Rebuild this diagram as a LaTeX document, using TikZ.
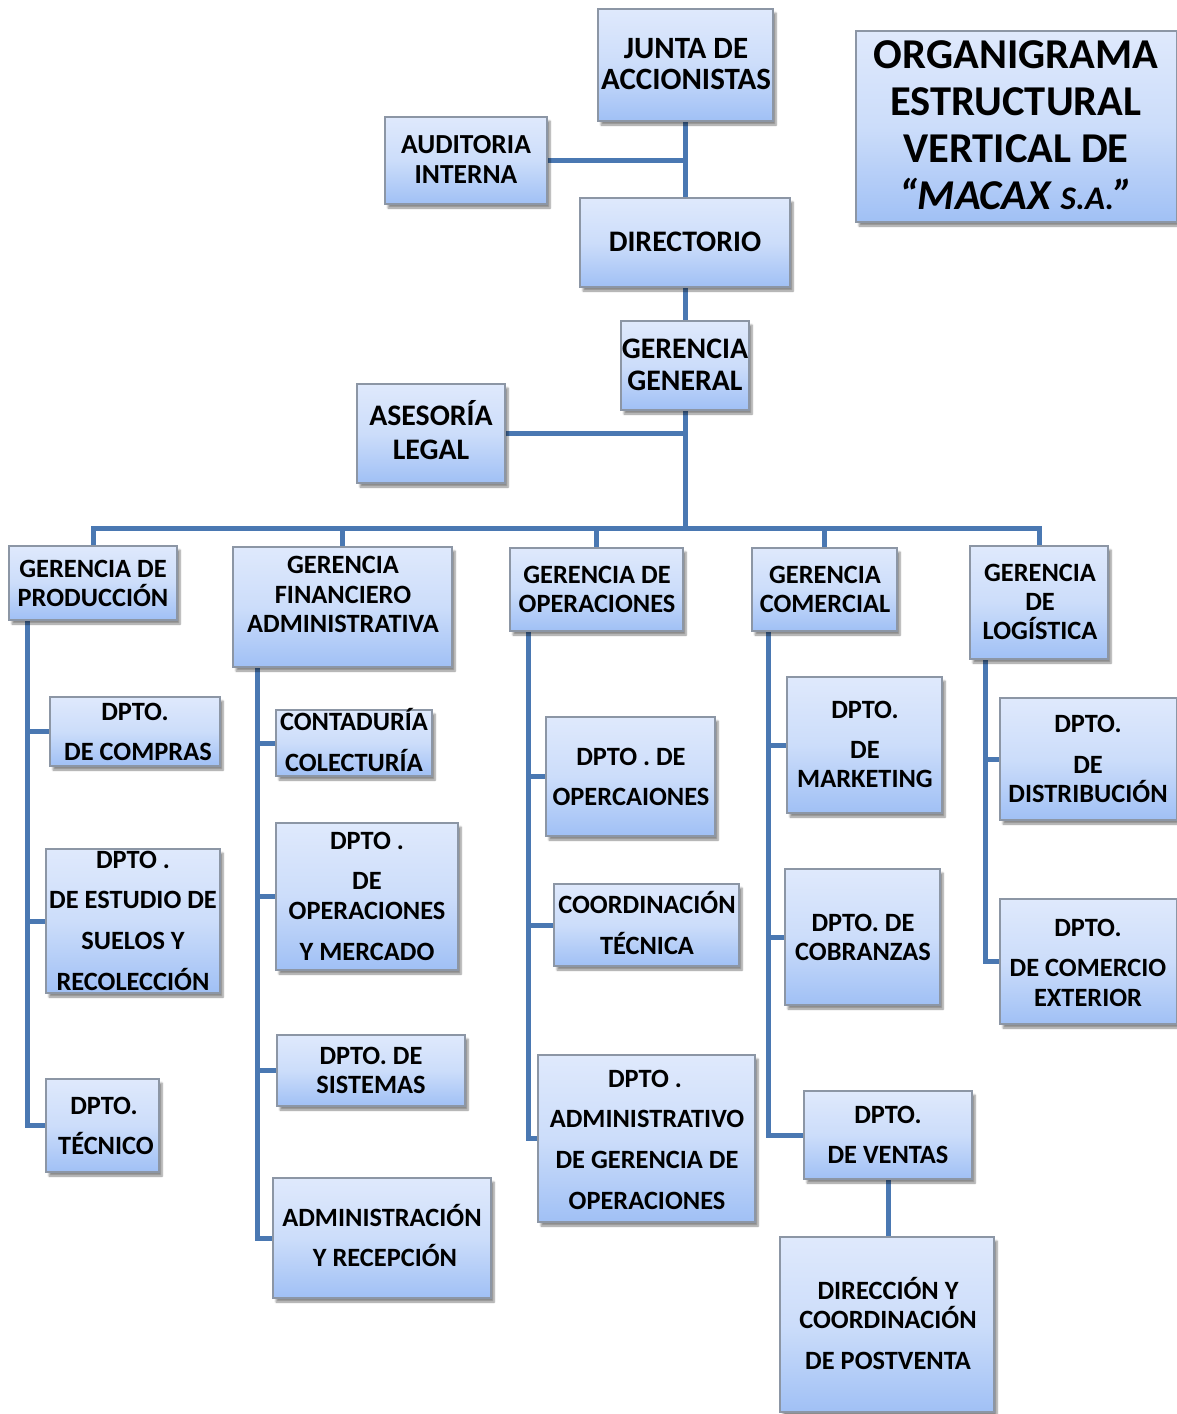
\documentclass[tikz,border=0pt]{standalone}
\usepackage{fontspec}
\setmainfont{Carlito}
\usetikzlibrary{shadows.blur,backgrounds}
\definecolor{lineblue}{RGB}{74,120,178}
\definecolor{btop}{RGB}{223,233,252}
\definecolor{bmid}{RGB}{204,221,250}
\definecolor{bbot}{RGB}{160,192,245}
\definecolor{bdraw}{RGB}{140,150,165}
\newcount\tlc
\newcommand\bx[5]{\node[box,minimum width={((#4)-(#2))*1pt},minimum height={((#5)-(#3))*1pt}] (#1) at ({((#2)+(#4))/2},{((#3)+(#5))/2}) {};}
\newcommand\tl[4][26.4]{\global\advance\tlc by 1\relax\node[txt,font=\bfseries\fontsize{#1}{#1}\selectfont] (tl\the\tlc) at (#2,{(#3)+0.322*(#1)}) {#4};}
\begin{document}
\begin{tikzpicture}[x=1pt,y=-1pt,
  box/.style={draw=bdraw,line width=1.2pt,top color=btop,bottom color=bbot,middle color=bmid,inner sep=0pt,
    blur shadow={shadow xshift=3pt,shadow yshift=-4pt,shadow opacity=45,shadow blur steps=6}},
  txt/.style={anchor=base,inner sep=0pt,text=black},
  conn/.style={draw=lineblue,line width=5pt,line join=miter}]
\useasboundingbox (0,0) rectangle (1177,1414);
% boxes
\bx{junta}{598}{9}{773}{121}
\bx{titulo}{856}{31}{1177}{222}
\bx{aud}{385}{117}{547}{204}
\bx{dir}{580}{198}{790}{287}
\bx{gg}{621}{321}{749}{410}
\bx{ase}{357}{384}{505}{483}
\bx{gp}{9}{546}{177}{620}
\bx{gfa}{233}{547}{452}{667}
\bx{go}{510}{548}{683}{631}
\bx{gc}{752}{548}{897}{631}
\bx{gl}{970}{546}{1108}{659}
\bx{compras}{50}{697}{220}{766}
\bx{estudio}{46}{849}{220}{993}
\bx{tecnico}{46}{1079}{159}{1172}
\bx{conta}{276}{710}{432}{776}
\bx{opmer}{276}{823}{458}{970}
\bx{sist}{277}{1035}{465}{1106}
\bx{admrec}{273}{1178}{491}{1298}
\bx{operc}{546}{717}{715}{836}
\bx{coord}{554}{884}{739}{966}
\bx{admop}{538}{1055}{755}{1222}
\bx{mkt}{787}{677}{942}{813}
\bx{cob}{785}{869}{940}{1005}
\bx{ventas}{804}{1091}{972}{1179}
\bx{post}{780}{1237}{994}{1412}
\bx{dist}{1000}{698}{1177}{820}
\bx{comex}{1000}{899}{1177}{1024}
% texts
\tl[31]{686}{49}{JUNTA DE}
\tl[31]{686}{80}{ACCIONISTAS}
\tl[42.5]{1016}{55}{ORGANIGRAMA}
\tl[42.5]{1016}{102}{ESTRUCTURAL}
\tl[42.5]{1016}{149}{VERTICAL DE}
\tl[42.5]{1016}{196}{\itshape “MACAX {\fontsize{33}{33}\selectfont S.A.}”}
\tl[27.5]{466}{145}{AUDITORIA}
\tl[27.5]{466}{175}{INTERNA}
\tl[29.8]{685}{242}{DIRECTORIO}
\tl[29.8]{685}{349}{GERENCIA}
\tl[29.8]{685}{381}{GENERAL}
\tl[29.8]{431}{416}{ASESORÍA}
\tl[29.8]{431}{450}{LEGAL}
\tl{93}{569}{GERENCIA DE}
\tl{93}{598}{PRODUCCIÓN}
\tl{343}{565}{GERENCIA}
\tl{343}{595}{FINANCIERO}
\tl{343}{624}{ADMINISTRATIVA}
\tl{597}{575}{GERENCIA DE}
\tl{597}{604}{OPERACIONES}
\tl{825}{575}{GERENCIA}
\tl{825}{604}{COMERCIAL}
\tl{1040}{573}{GERENCIA}
\tl{1040}{602}{DE}
\tl{1040}{631}{LOGÍSTICA}
\tl{135}{712}{DPTO.}
\tl{138}{752}{DE COMPRAS}
\tl{133}{860}{DPTO .}
\tl{133}{900}{DE ESTUDIO DE}
\tl{133}{941}{SUELOS Y}
\tl{133}{982}{RECOLECCIÓN}
\tl{104}{1106}{DPTO.}
\tl{106}{1146}{TÉCNICO}
\tl{354}{722}{CONTADURÍA}
\tl{354}{763}{COLECTURÍA}
\tl{367}{841}{DPTO .}
\tl{367}{881}{DE}
\tl{367}{911}{OPERACIONES}
\tl{367}{952}{Y MERCADO}
\tl{371}{1056}{DPTO. DE}
\tl{371}{1085}{SISTEMAS}
\tl{382}{1218}{ADMINISTRACIÓN}
\tl{385}{1258}{Y RECEPCIÓN}
\tl{631}{757}{DPTO . DE}
\tl{631}{797}{OPERCAIONES}
\tl{647}{905}{COORDINACIÓN}
\tl{647}{946}{TÉCNICA}
\tl{645}{1079}{DPTO .}
\tl{647}{1119}{ADMINISTRATIVO}
\tl{647}{1160}{DE GERENCIA DE}
\tl{647}{1201}{OPERACIONES}
\tl{865}{710}{DPTO.}
\tl{865}{750}{DE}
\tl{865}{779}{MARKETING}
\tl{863}{923}{DPTO. DE}
\tl{863}{952}{COBRANZAS}
\tl{888}{1115}{DPTO.}
\tl{888}{1155}{DE VENTAS}
\tl{888}{1291}{DIRECCIÓN Y}
\tl{888}{1320}{COORDINACIÓN}
\tl{888}{1361}{DE POSTVENTA}
\tl{1088}{724}{DPTO.}
\tl{1088}{765}{DE}
\tl{1088}{794}{DISTRIBUCIÓN}
\tl{1088}{928}{DPTO.}
\tl{1088}{968}{DE COMERCIO}
\tl{1088}{998}{EXTERIOR}
% connectors
\coordinate (bus) at (0,528);
\coordinate (c1) at (27,0);
\coordinate (c2) at (257,0);
\coordinate (c3) at (528,0);
\coordinate (c4) at (768,0);
\coordinate (c5) at (985,0);
\begin{scope}[on background layer]
\draw[conn] (junta.south) -- (junta.south |- dir.north);
\draw[conn] (aud.east) -- (aud.east -| junta.south);
\draw[conn] (dir.south) -- (dir.south |- gg.north);
\draw[conn] (gg.south) -- (gg.south |- bus);
\draw[conn] (ase.east) -- (ase.east -| gg.south);
\draw[conn] (gp.north) -- (gp.north |- bus) -- (gl.north |- bus) -- (gl.north);
\foreach \n in {gfa,go,gc} \draw[conn] (\n.north) -- (\n.north |- bus);
% column 1
\draw[conn] (gp.south -| c1) |- (tecnico.west);
\draw[conn] (compras.west -| c1) -- (compras.west);
\draw[conn] (estudio.west -| c1) -- (estudio.west);
% column 2
\draw[conn] (gfa.south -| c2) |- (admrec.west);
\draw[conn] (conta.west -| c2) -- (conta.west);
\draw[conn] (opmer.west -| c2) -- (opmer.west);
\draw[conn] (sist.west -| c2) -- (sist.west);
% column 3
\draw[conn] (go.south -| c3) |- (admop.west);
\draw[conn] (operc.west -| c3) -- (operc.west);
\draw[conn] (coord.west -| c3) -- (coord.west);
% column 4
\draw[conn] (gc.south -| c4) |- (ventas.west);
\draw[conn] (mkt.west -| c4) -- (mkt.west);
\draw[conn] (cob.west -| c4) -- (cob.west);
\draw[conn] (ventas.south) -- (ventas.south |- post.north);
% column 5
\draw[conn] (gl.south -| c5) |- (comex.west);
\draw[conn] (dist.west -| c5) -- (dist.west);
\end{scope}
\end{tikzpicture}
\end{document}
